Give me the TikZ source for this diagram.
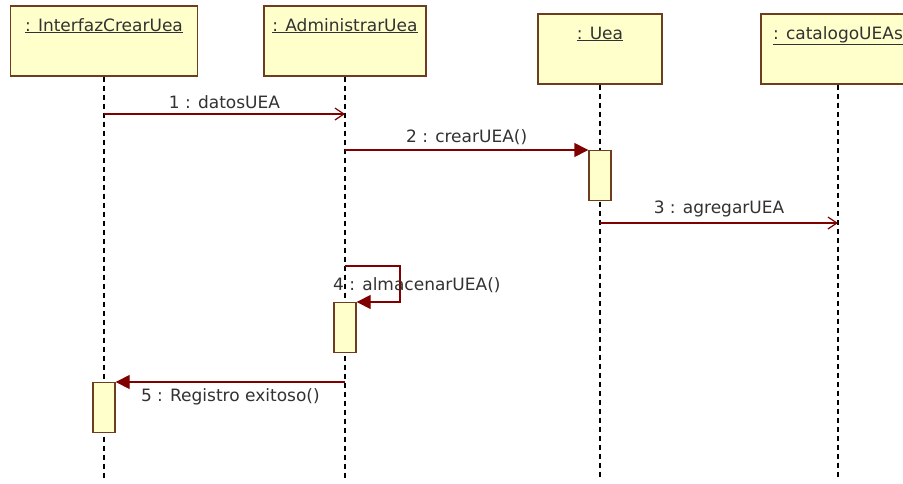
\documentclass[tikz,border=0pt]{standalone}
\usepackage{fontspec}
\setmainfont{DejaVu Sans}
\usepackage{tikz}
\usetikzlibrary{
  arrows.meta, positioning, calc
}
\definecolor{boxfill}{RGB}{255,255,204}
\definecolor{boxline}{RGB}{110,60,30}
\definecolor{msgred}{RGB}{128,0,0}
\definecolor{txtgray}{RGB}{50,50,50}

\begin{document}
\begin{tikzpicture}[x=1pt, y=-1pt,
    obj/.style={draw=boxline, fill=boxfill, line width=1.6pt, minimum height=70, inner sep=0},
    act/.style={draw=boxline, fill=boxfill, line width=1.4pt, minimum width=22, minimum height=50, inner sep=0, anchor=north},
    lifeline/.style={line width=1.2pt, dash pattern=on 5pt off 4pt},
    lbl/.style={font=\fontsize{17}{20}\selectfont, text=txtgray, inner sep=2pt},
    msg/.style={draw=msgred, line width=1.4pt},
    sync/.style={msg, -{Triangle[length=14pt, width=14pt, fill=msgred]}},
    async/.style={msg, -{Straight Barb[length=9pt, width=12pt, line width=1.2pt]}}
  ]
  \clip (0,0) rectangle (903,483);
  \fill[white] (0,0) rectangle (903,483);
  % objects and lifelines
  \foreach \name/\x/\y/\w/\txt in {iface/104/5/187/InterfazCrearUea, admin/345/5/162/AdministrarUea,
                                  uea/600/13/124/Uea, cat/838/13/154/catalogoUEAs} {
    \node[obj, minimum width=\w, anchor=north] (\name) at (\x,\y) {};
    \node[lbl, anchor=base] (\name-t) at ($(\name.north)+(0,26)$) {\underline{: \txt}};
    \draw[lifeline] (\name.south) -- (\name.south |- 0,478);
  }
  % points on lifelines
  \coordinate (m1) at (iface.south |- 0,114);
  \coordinate (m2) at (admin.south |- 0,150);
  \coordinate (m3) at (uea.south |- 0,223);
  \coordinate (m4) at (admin.south |- 0,266);
  \coordinate (m5) at (admin.south |- 0,382);
  % activations
  \node[act] (a-uea) at (m2 -| uea.south) {};
  \node[act] (a-admin) at (admin.south |- 0,302) {};
  \node[act] (a-iface) at (m5 -| iface.south) {};
  % messages
  \draw[async] (m1) -- (m1 -| admin.south) node[lbl, midway, above=3pt] {1 : datosUEA};
  \draw[sync] (m2) -- (a-uea.north west) node[lbl, midway, above=3pt] {2 : crearUEA()};
  \draw[async] (m3) -- (m3 -| cat.south) node[lbl, midway, above=3pt] {3 : agregarUEA};
  \draw[sync] (m4) -- ++(55,0) |- (a-admin.north east);
  \node[lbl, anchor=west] (m4-t) at ($(m4)+(-14,19)$) {4 : almacenarUEA()};
  \draw[sync] (m5) -- (a-iface.north east) node[lbl, midway, below=4pt] {5 : Registro exitoso()};
\end{tikzpicture}
\end{document}
